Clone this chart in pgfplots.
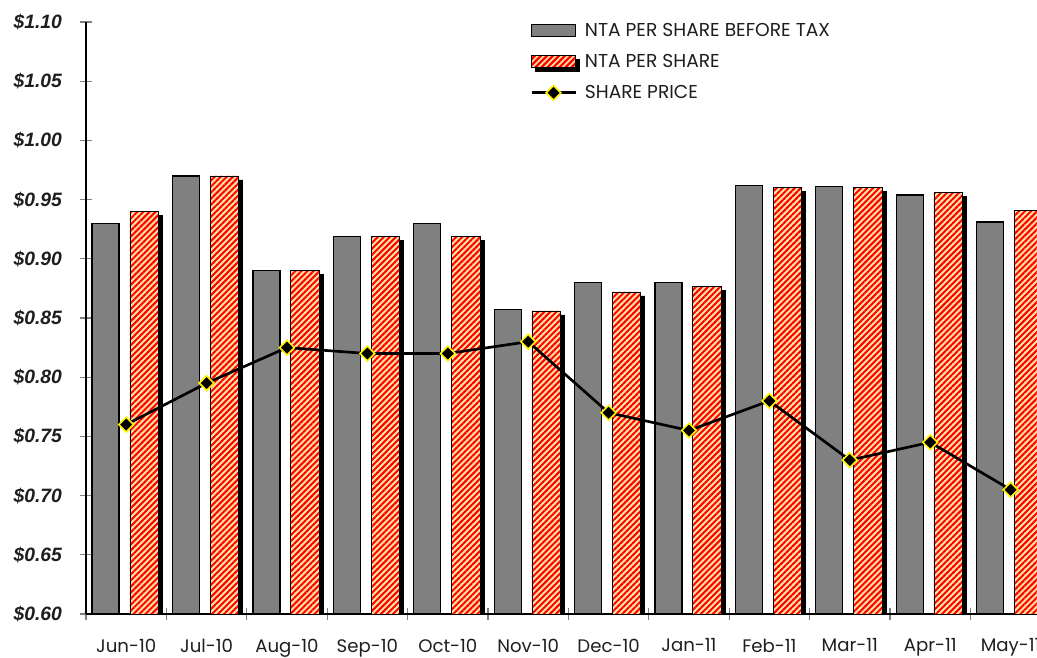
\documentclass[border=0pt]{standalone}
\usepackage{pgfplots}
\pgfplotsset{compat=1.18}
\usepackage{fontspec}
\setmainfont{Poppins}
\newfontfamily\arialfont{Liberation Sans}
\usetikzlibrary{patterns.meta}
\definecolor{barGray}{RGB}{128,128,128}
\definecolor{hatchBg}{RGB}{255,228,160}
\definecolor{hatchRed}{RGB}{255,0,0}
\definecolor{txt}{RGB}{30,30,30}
\tikzset{hatchfill/.style={fill=hatchBg, postaction={pattern={Lines[angle=45,distance=3.2pt,line width=1.5pt]}, pattern color=hatchRed}}}
\pgfplotsset{
  graylegend/.style={legend image code/.code={\draw[fill=barGray, draw=black, line width=1pt] (0pt,-4.5pt) rectangle (33pt,4.5pt);}},
  hatchlegend/.style={legend image code/.code={\draw[hatchfill, draw=black, line width=0.8pt] (0pt,-4.5pt) rectangle (33pt,4.5pt);}},
  linelegend/.style={legend image code/.code={\draw[##1, mark repeat=2, mark phase=2] plot coordinates {(0pt,0pt) (16.5pt,0pt) (33pt,0pt)};}},
}
\begin{document}
\begin{tikzpicture}
\path[use as bounding box] (-64.5pt,-32.25pt) rectangle (713.25pt,460.5pt);
\clip (-64.5pt,-32.25pt) rectangle (713.25pt,460.5pt);
\begin{axis}[
  at={(0pt,0pt)}, anchor=south west,
  scale only axis,
  width=723.6pt, height=444pt,
  xmin=-0.5, xmax=11.5,
  ymin=0.6, ymax=1.1,
  axis x line*=bottom, axis y line*=left,
  axis line style={line width=0.8pt},
  xtick={0,...,11},
  xticklabels={Jun-10,Jul-10,Aug-10,Sep-10,Oct-10,Nov-10,Dec-10,Jan-11,Feb-11,Mar-11,Apr-11,May-11},
  major x tick style={draw=none},
  minor xtick={-0.5,0.5,...,11.5},
  minor x tick style={line width=0.8pt},
  minor tick length=9pt,
  ytick={0.6,0.65,0.7,0.75,0.8,0.85,0.9,0.95,1.0,1.05,1.1},
  yticklabels={\$0.60,\$0.65,\$0.70,\$0.75,\$0.80,\$0.85,\$0.90,\$0.95,\$1.00,\$1.05,\$1.10},
  major tick length=9pt,
  y tick style={line width=0.8pt},
  tick align=center,
  yticklabel style={font=\arialfont\bfseries\itshape\fontsize{14.5}{16}\selectfont, xshift=-10pt, text=txt},
  xticklabel style={font=\fontsize{13.6}{15}\selectfont, yshift=-10.5pt, text=txt},
  legend style={draw=none, fill=none, at={(0.456,1.008)}, anchor=north west,
    font=\fontsize{14}{16}\selectfont, text=txt, row sep=8pt, column sep=4pt,
    legend cell align=left},
]
\addplot[ybar, bar width=20.25pt, bar shift=-15.4pt, fill=barGray, draw=black, line width=1pt, graylegend]
  coordinates {(0,0.930) (1,0.970) (2,0.890) (3,0.919) (4,0.930) (5,0.857) (6,0.880) (7,0.880) (8,0.962) (9,0.961) (10,0.954) (11,0.931)};
\addlegendentry{NTA PER SHARE BEFORE TAX}
\addplot[ybar, bar width=21.4pt, bar shift=13.5pt, draw=black, line width=0.6pt,
  preaction={fill=black, transform canvas={xshift=3pt,yshift=-3pt}},
  hatchfill, hatchlegend]
  coordinates {(0,0.940) (1,0.970) (2,0.890) (3,0.919) (4,0.919) (5,0.856) (6,0.872) (7,0.877) (8,0.960) (9,0.960) (10,0.956) (11,0.941)};
\addlegendentry{NTA PER SHARE}
\addplot[sharp plot, black, line width=2pt, mark=square*, mark size=3.9pt,
  mark options={fill=black, draw=yellow, line width=1.2pt, rotate=45}, linelegend]
  coordinates {(0,0.760) (1,0.795) (2,0.825) (3,0.820) (4,0.820) (5,0.830) (6,0.770) (7,0.755) (8,0.780) (9,0.730) (10,0.745) (11,0.705)};
\addlegendentry{SHARE PRICE}
\end{axis}
\end{tikzpicture}
\end{document}
